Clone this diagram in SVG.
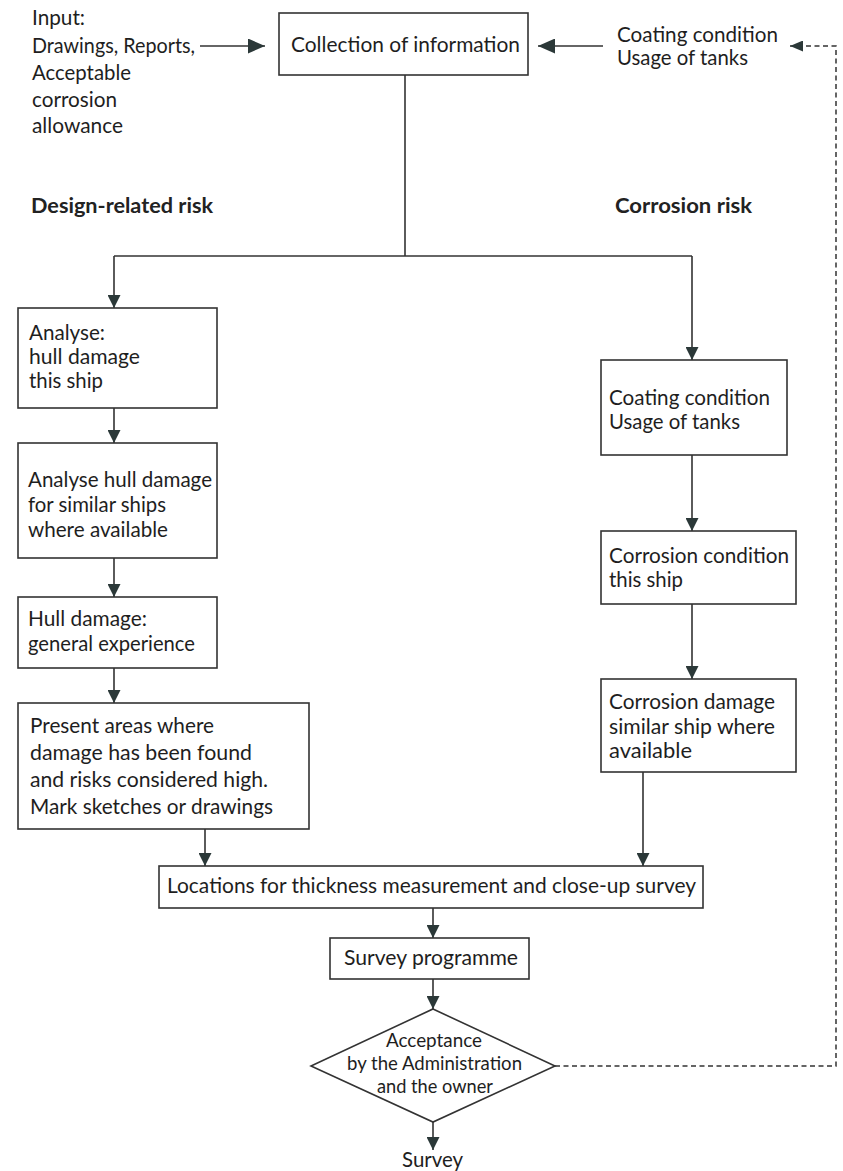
<svg xmlns="http://www.w3.org/2000/svg" width="843" height="1171" viewBox="0 0 843 1171">
<style>
text{font-family:Lato,"Open Sans","Liberation Sans",sans-serif;font-size:21px;fill:#1e1e1e}
.b{font-weight:bold;font-size:21px;fill:#222}
.c{text-anchor:middle}
.d{font-size:19.5px}
.box{fill:#fff;stroke:#333;stroke-width:1.6}
.ln{fill:none;stroke:#333;stroke-width:1.6}
.dash{fill:none;stroke:#333;stroke-width:1.5;stroke-dasharray:5 3.5}
</style>
<defs>
<marker id="a" markerUnits="userSpaceOnUse" markerWidth="14" markerHeight="13" refX="13" refY="6.5" orient="auto"><path d="M0,0 L13,6.5 L0,13 z" fill="#2b3838"/></marker>
<marker id="A" markerUnits="userSpaceOnUse" markerWidth="18" markerHeight="15" refX="17" refY="7.5" orient="auto"><path d="M0,0 L17,7.5 L0,15 z" fill="#2b3838"/></marker>
<marker id="s" markerUnits="userSpaceOnUse" markerWidth="14" markerHeight="11" refX="13" refY="5.5" orient="auto"><path d="M0,0 L13,5.5 L0,11 z" fill="#2b3838"/></marker>
</defs>

<g id="connectors">
<path class="ln" d="M200,46 H265" marker-end="url(#A)"/>
<path class="ln" d="M603,46 H538" marker-end="url(#A)"/>
<path class="dash" d="M555,1066 H836 V46 H790" marker-end="url(#s)"/>
<path class="ln" d="M405,75 V256"/>
<path class="ln" d="M114,256 H692"/>
<path class="ln" d="M114,256 V308" marker-end="url(#a)"/>
<path class="ln" d="M692,256 V360" marker-end="url(#a)"/>
<path class="ln" d="M114,408 V443" marker-end="url(#a)"/>
<path class="ln" d="M114,558 V597" marker-end="url(#a)"/>
<path class="ln" d="M114,668 V703" marker-end="url(#a)"/>
<path class="ln" d="M205,829 V866" marker-end="url(#a)"/>
<path class="ln" d="M692,455 V531" marker-end="url(#a)"/>
<path class="ln" d="M692,604 V679" marker-end="url(#a)"/>
<path class="ln" d="M643,772 V866" marker-end="url(#a)"/>
<path class="ln" d="M433,908 V938" marker-end="url(#a)"/>
<path class="ln" d="M433,979 V1009" marker-end="url(#a)"/>
<path class="ln" d="M433,1122 V1150" marker-end="url(#a)"/>
</g>

<g id="input">
<text x="32" y="25" textLength="53" lengthAdjust="spacingAndGlyphs">Input:</text>
<text x="32" y="53" textLength="163" lengthAdjust="spacingAndGlyphs">Drawings, Reports,</text>
<text x="32" y="80" textLength="99" lengthAdjust="spacingAndGlyphs">Acceptable</text>
<text x="32" y="107" textLength="85" lengthAdjust="spacingAndGlyphs">corrosion</text>
<text x="32" y="133" textLength="91" lengthAdjust="spacingAndGlyphs">allowance</text>
</g>

<g id="collection">
<rect class="box" x="279" y="13" width="249" height="62"/>
<text x="291" y="52" textLength="229" lengthAdjust="spacingAndGlyphs">Collection of information</text>
</g>

<g id="coating-input">
<text x="617" y="42" textLength="161" lengthAdjust="spacingAndGlyphs">Coating condition</text>
<text x="617" y="65" textLength="131" lengthAdjust="spacingAndGlyphs">Usage of tanks</text>
</g>

<g id="labels">
<text class="b" x="31" y="213" textLength="182" lengthAdjust="spacingAndGlyphs">Design-related risk</text>
<text class="b" x="615" y="213" textLength="137" lengthAdjust="spacingAndGlyphs">Corrosion risk</text>
</g>

<g id="analyse-this">
<rect class="box" x="18" y="308" width="199" height="100"/>
<text x="29" y="340" textLength="76" lengthAdjust="spacingAndGlyphs">Analyse:</text>
<text x="29" y="364" textLength="111" lengthAdjust="spacingAndGlyphs">hull damage</text>
<text x="29" y="388" textLength="74" lengthAdjust="spacingAndGlyphs">this ship</text>
</g>

<g id="analyse-similar">
<rect class="box" x="18" y="443" width="199" height="115"/>
<text x="28" y="487" textLength="184" lengthAdjust="spacingAndGlyphs">Analyse hull damage</text>
<text x="28" y="512" textLength="138" lengthAdjust="spacingAndGlyphs">for similar ships</text>
<text x="28" y="537" textLength="140" lengthAdjust="spacingAndGlyphs">where available</text>
</g>

<g id="hull-general">
<rect class="box" x="18" y="597" width="199" height="71"/>
<text x="28" y="626" textLength="119" lengthAdjust="spacingAndGlyphs">Hull damage:</text>
<text x="28" y="651" textLength="167" lengthAdjust="spacingAndGlyphs">general experience</text>
</g>

<g id="present-areas">
<rect class="box" x="18" y="703" width="291" height="126"/>
<text x="30" y="733" textLength="184" lengthAdjust="spacingAndGlyphs">Present areas where</text>
<text x="30" y="760" textLength="222" lengthAdjust="spacingAndGlyphs">damage has been found</text>
<text x="30" y="787" textLength="238" lengthAdjust="spacingAndGlyphs">and risks considered high.</text>
<text x="30" y="814" textLength="243" lengthAdjust="spacingAndGlyphs">Mark sketches or drawings</text>
</g>

<g id="coating-usage">
<rect class="box" x="601" y="360" width="186" height="95"/>
<text x="609" y="405" textLength="161" lengthAdjust="spacingAndGlyphs">Coating condition</text>
<text x="609" y="429" textLength="131" lengthAdjust="spacingAndGlyphs">Usage of tanks</text>
</g>

<g id="corrosion-condition">
<rect class="box" x="601" y="531" width="195" height="73"/>
<text x="609" y="563" textLength="180" lengthAdjust="spacingAndGlyphs">Corrosion condition</text>
<text x="609" y="587" textLength="74" lengthAdjust="spacingAndGlyphs">this ship</text>
</g>

<g id="corrosion-damage">
<rect class="box" x="601" y="679" width="195" height="93"/>
<text x="609" y="709" textLength="166" lengthAdjust="spacingAndGlyphs">Corrosion damage</text>
<text x="609" y="734" textLength="166" lengthAdjust="spacingAndGlyphs">similar ship where</text>
<text x="609" y="758" textLength="83" lengthAdjust="spacingAndGlyphs">available</text>
</g>

<g id="locations">
<rect class="box" x="159" y="866" width="544" height="42"/>
<text x="167" y="893" textLength="529" lengthAdjust="spacingAndGlyphs">Locations for thickness measurement and close-up survey</text>
</g>

<g id="survey-programme">
<rect class="box" x="330" y="938" width="199" height="41"/>
<text x="344" y="965" textLength="174" lengthAdjust="spacingAndGlyphs">Survey programme</text>
</g>

<g id="acceptance">
<polygon class="box" points="433,1009 555,1066 433,1122 311,1066"/>
<text class="d" x="386" y="1047" textLength="96" lengthAdjust="spacingAndGlyphs">Acceptance</text>
<text class="d" x="347" y="1070" textLength="175" lengthAdjust="spacingAndGlyphs">by the Administration</text>
<text class="d" x="377" y="1093" textLength="116" lengthAdjust="spacingAndGlyphs">and the owner</text>
</g>

<g id="survey">
<text x="402" y="1167" textLength="61" lengthAdjust="spacingAndGlyphs">Survey</text>
</g>
</svg>
